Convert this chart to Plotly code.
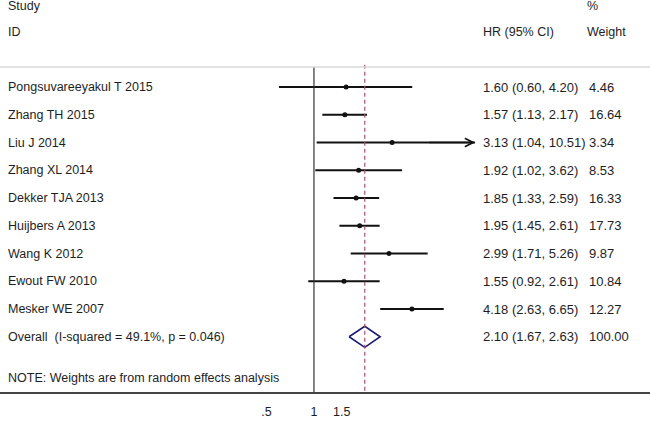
import math
import plotly.graph_objects as go

studies = ["Pongsuvareeyakul T 2015", "Zhang TH 2015", "Liu J 2014", "Zhang XL 2014",
           "Dekker TJA 2013", "Huijbers A 2013", "Wang K 2012", "Ewout FW 2010", "Mesker WE 2007"]
hr = [1.60, 1.57, 3.13, 1.92, 1.85, 1.95, 2.99, 1.55, 4.18]
ci_low = [0.60, 1.13, 1.04, 1.02, 1.33, 1.45, 1.71, 0.92, 2.63]
ci_high = [4.20, 2.17, 10.51, 3.62, 2.59, 2.61, 5.26, 2.61, 6.65]
weights = [4.46, 16.64, 3.34, 8.53, 16.33, 17.73, 9.87, 10.84, 12.27]
overall_label = "Overall  (I-squared = 49.1%, p = 0.046)"
overall_hr, overall_low, overall_high, overall_weight = 2.10, 1.67, 2.63, 100.00
note = "NOTE: Weights are from random effects analysis"
tick_vals = [0.5, 1, 1.5]
tick_text = [".5", "1", "1.5"]
arrow_studies = ["Liu J 2014"]

FONT = "Liberation Sans, Arial, sans-serif"
TXT = "#1e1e1e"
FS = 12.5
FS_NUM = 13

fig = go.Figure()
rows = list(range(len(studies)))

# CI lines
for i, (lo, hi) in enumerate(zip(ci_low, ci_high)):
    fig.add_trace(go.Scatter(x=[lo, hi], y=[i, i], mode="lines",
                             line=dict(color="#111111", width=1.8),
                             hoverinfo="skip", showlegend=False))
# points
fig.add_trace(go.Scatter(x=hr, y=rows, mode="markers",
                         marker=dict(color="#111111", size=5),
                         showlegend=False))

ov_row = len(studies)
h = 0.38
fig.add_trace(go.Scatter(x=[overall_low, overall_hr, overall_high, overall_hr, overall_low],
                         y=[ov_row, ov_row - h, ov_row, ov_row + h, ov_row],
                         mode="lines", line=dict(color="#1c1c6e", width=1.6),
                         showlegend=False))

# arrows for clipped CI
for s in arrow_studies:
    i = studies.index(s)
    fig.add_annotation(x=math.log10(ci_high[i]), y=i, ax=math.log10(ci_high[i]) - 0.3, ay=i,
                       xref="x", yref="y", axref="x", ayref="y", text="",
                       showarrow=True, arrowhead=5, arrowsize=1.1, arrowwidth=1.5,
                       arrowcolor="#111111", standoff=0)

# reference lines
fig.add_shape(type="line", xref="x", yref="y", x0=1, x1=1, y0=-0.72, y1=10.99,
              line=dict(color="#333333", width=1.2))
fig.add_shape(type="line", xref="x", yref="y", x0=overall_hr, x1=overall_hr, y0=-0.8, y1=10.99,
              line=dict(color="#a8506a", width=1.2, dash="4px,3px"))
fig.add_shape(type="line", xref="paper", yref="y", x0=0, x1=1, y0=-0.72, y1=-0.72,
              line=dict(color="#d8d8d8", width=1.5))

def ann(x, y, t, size=FS):
    fig.add_annotation(x=x, y=y, xref="paper", yref="y", text=t, showarrow=False,
                       xanchor="left", yanchor="middle",
                       font=dict(family=FONT, size=size, color=TXT))

X_NAME, X_HR, X_W = 6 / 650, 481 / 650, 587 / 650
ann(X_NAME, -2.92, "Study")
ann(X_NAME, -1.98, "ID")
ann(X_HR, -1.98, "HR (95% CI)")
ann(X_W - 2 / 650, -2.92, "%")
ann(X_W - 2 / 650, -1.98, "Weight")
for i, s in enumerate(studies):
    ann(X_NAME, i, s)
    ann(X_HR, i, f"{hr[i]:.2f} ({ci_low[i]:.2f}, {ci_high[i]:.2f})", FS_NUM)
    ann(X_W, i, f"{weights[i]:.2f}", FS_NUM)
ann(X_NAME, ov_row, overall_label)
ann(X_HR, ov_row, f"{overall_hr:.2f} ({overall_low:.2f}, {overall_high:.2f})", FS_NUM)
ann(X_W, ov_row, f"{overall_weight:.2f}", FS_NUM)
ann(X_NAME, 10.5, note)

fig.update_layout(
    width=650, height=421, margin=dict(l=0, r=0, t=0, b=29),
    paper_bgcolor="white", plot_bgcolor="white", showlegend=False,
    xaxis=dict(type="log", range=[-1.991, 2.131], tickvals=tick_vals, ticktext=tick_text,
               showgrid=False, zeroline=False, showline=True, linecolor="#444444", linewidth=1.5,
               ticks="outside", ticklen=7, tickcolor="rgba(0,0,0,0)",
               tickfont=dict(family=FONT, size=FS, color=TXT), fixedrange=True),
    yaxis=dict(range=[10.99, -3.135], visible=False, showgrid=False, zeroline=False, fixedrange=True),
)
fig.write_html("out.html", config={"displayModeBar": False},
               post_script="document.body.style.margin='0';")
